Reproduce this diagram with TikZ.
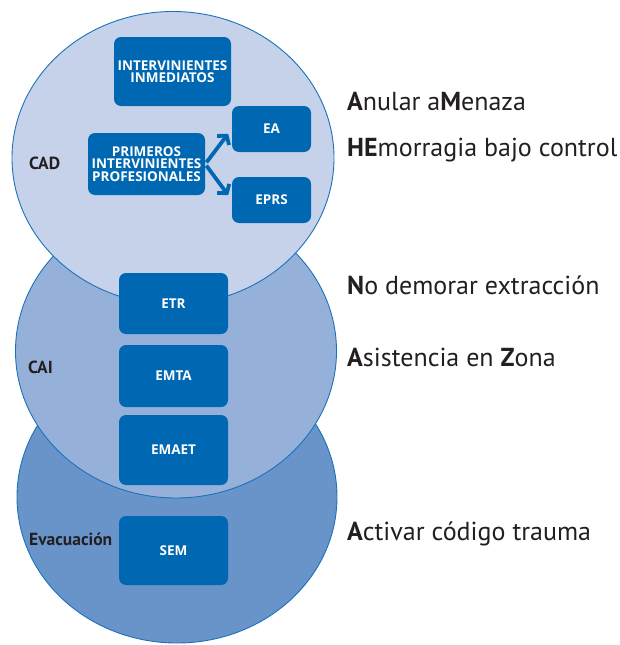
\documentclass[tikz,border=0pt]{standalone}
\usepackage{fontspec}
\setmainfont{PT Sans}
\newfontfamily\boxfont{Open Sans}
\usetikzlibrary{arrows.meta}
\definecolor{cadfill}{HTML}{C6D2EA}
\definecolor{caifill}{HTML}{95B1DA}
\definecolor{evafill}{HTML}{6894CA}
\definecolor{ringline}{HTML}{1B72BA}
\definecolor{boxblue}{HTML}{0068B3}
\definecolor{txt}{HTML}{231F20}
\tikzset{
  zone/.style={draw=ringline, line width=0.9pt},
  bluebox/.style={fill=boxblue, rounded corners=7pt, text=white, font=\boxfont\bfseries\fontsize{13.5}{12.5}\selectfont, align=center, inner sep=0pt},
  zonelabel/.style={anchor=base west, text=txt, font=\fontsize{17.5}{19}\selectfont\bfseries, inner sep=0pt},
  rule/.style={anchor=base west, text=txt, font=\fontsize{26}{30}\selectfont, inner sep=0pt},
  arr/.style={draw=boxblue, line width=3.8pt, -{Straight Barb[length=6pt,width=15pt,line width=3.8pt]}, shorten <=2pt, shorten >=6pt}
}
\begin{document}
\begin{tikzpicture}[x=1pt,y=-1pt]
\useasboundingbox (0,0) rectangle (620,645);
% zones
\draw[zone, fill=evafill] (177,497) ellipse [x radius=160pt, y radius=146pt];
\draw[zone, fill=caifill] (176,351) ellipse [x radius=160.5pt, y radius=147pt];
\draw[zone, fill=cadfill] (173,158) ellipse [x radius=161pt, y radius=146.5pt];
% boxes
\node[bluebox, minimum width=117pt, minimum height=69pt] (ii) at (172.5,71.5) {INTERVINIENTES\\INMEDIATOS};
\node[bluebox, minimum width=117pt, minimum height=62pt] (pip) at (146.5,164) {PRIMEROS\\INTERVINIENTES\\PROFESIONALES};
\node[bluebox, minimum width=79pt, minimum height=46pt] (ea) at (271.5,129) {EA};
\node[bluebox, minimum width=79pt, minimum height=46pt] (eprs) at (271.5,200) {EPRS};
\node[bluebox, minimum width=109pt, minimum height=61pt] (etr) at (173.5,303.5) {ETR};
\node[bluebox, minimum width=109pt, minimum height=62pt] (emta) at (173.5,376) {EMTA};
\node[bluebox, minimum width=109pt, minimum height=70pt] (emaet) at (173.5,450) {EMAET};
\node[bluebox, minimum width=109pt, minimum height=69pt] (sem) at (173.5,550.5) {SEM};
% arrows
\draw[arr] (pip.east) -- (ea.west);
\draw[arr] (pip.east) -- (eprs.west);
% zone labels
\node[zonelabel] (lcad) at (29,169) {CAD};
\node[zonelabel] (lcai) at (28,373) {CAI};
\node[zonelabel] (leva) at (29,545) {Evacuación};
% rules
\node[rule] (r1) at (347,110) {\textbf{A}nular a\textbf{M}enaza};
\node[rule] (r2) at (347,156) {\textbf{HE}morragia bajo control};
\node[rule] (r3) at (347,294) {\textbf{N}o demorar extracción};
\node[rule] (r4) at (347,366) {\textbf{A}sistencia en \textbf{Z}ona};
\node[rule] (r5) at (347,540) {\textbf{A}ctivar código trauma};
\end{tikzpicture}
\end{document}
